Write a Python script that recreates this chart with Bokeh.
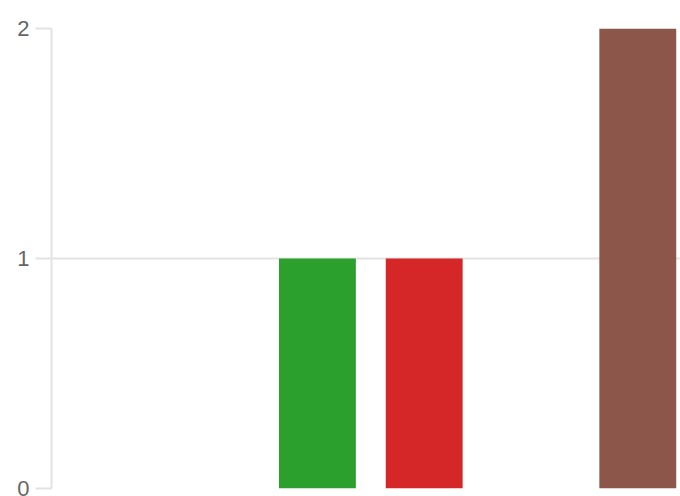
from bokeh.plotting import figure
from bokeh.models import Range1d, FixedTicker, ColumnDataSource
from bokeh.embed import file_html
from bokeh.resources import INLINE

categories = ["A", "B", "C", "D", "E", "F"]
values = [0, 0, 1, 1, 0, 2]
colors = ["#1f77b4", "#ff7f0e", "#2ca02c", "#d62728", "#9467bd", "#8c564b"]
y_ticks = [0, 1, 2]

xs = [i + 0.5 for i in range(len(categories))]
src = ColumnDataSource(dict(x=xs, top=values, color=colors, cat=categories))

p = figure(width=680, height=496, output_backend="svg", toolbar_location=None,
           x_range=Range1d(0.01, 5.90), y_range=Range1d(0, 2),
           min_border_left=51, min_border_right=0, min_border_top=28, min_border_bottom=8)
p.vbar(x="x", top="top", bottom=0, width=0.72, color="color", source=src, line_color=None)

p.xaxis.visible = False
p.xgrid.visible = False
p.outline_line_color = None
p.background_fill_color = "white"
p.border_fill_color = "white"

p.yaxis.ticker = FixedTicker(ticks=y_ticks)
p.yaxis.axis_line_color = "#e3e3e3"
p.yaxis.axis_line_width = 2
p.yaxis.major_tick_line_color = "#e3e3e3"
p.yaxis.major_tick_line_width = 2
p.yaxis.major_tick_out = 16
p.yaxis.major_tick_in = 0
p.yaxis.minor_tick_line_color = None
p.yaxis.major_label_standoff = 6
p.yaxis.major_label_text_font = "Liberation Sans"
p.yaxis.major_label_text_font_size = "22px"
p.yaxis.major_label_text_color = "#666666"
p.ygrid.grid_line_color = "#e3e3e3"
p.ygrid.grid_line_width = 2

open("out.html", "w").write(file_html(p, INLINE))
